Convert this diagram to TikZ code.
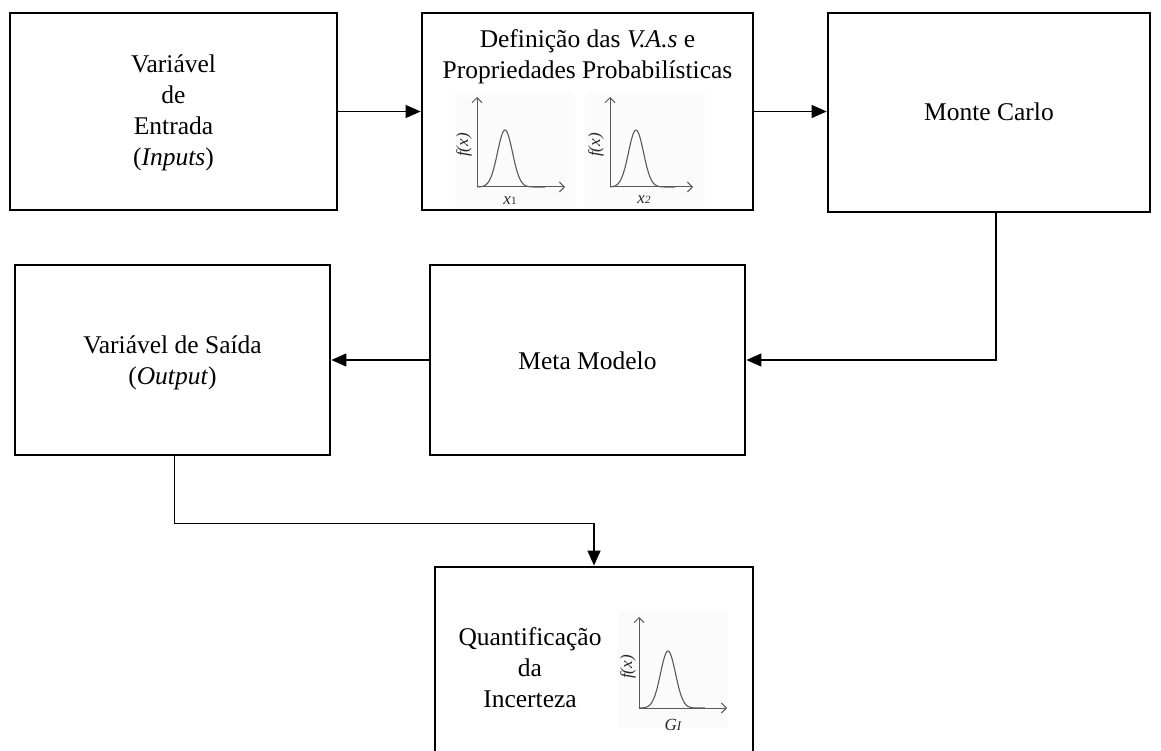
\documentclass[tikz,border=0pt]{standalone}
\usepackage{fontspec}
\setmainfont{Liberation Serif}
\usetikzlibrary{arrows.meta}
\tikzset{
  box/.style={draw, line width=2.8pt, inner sep=0pt},
  txt/.style={align=center, font=\fontsize{25.5}{31}\selectfont, inner sep=0pt},
  conn/.style={line width=1.3pt, -{Triangle[length=15pt,width=13pt]}},
  axisline/.style={draw=black!65, line width=1pt, -{Straight Barb[length=5pt,width=10pt]}},
  curve/.style={draw=black!65, line width=1.1pt},
  lbl/.style={font=\fontsize{17}{18}\selectfont\itshape, inner sep=0pt, text=black!85},
  plotbg/.style={fill=black!1.5, draw=none}
}
\begin{document}
\begin{tikzpicture}[x=1pt,y=-1pt]
\useasboundingbox (0,0) rectangle (1161,751);
% plot backgrounds
\fill[plotbg] (455,92) rectangle (575,207);
\fill[plotbg] (585,92) rectangle (705,207);
\fill[plotbg] (618,610) rectangle (728,728);
% boxes
\node[box, minimum width=327pt, minimum height=197pt] (inp) at (173.5,111.5) {};
\node[box, minimum width=331pt, minimum height=197pt] (vas) at (587.5,111.5) {};
\node[box, minimum width=322pt, minimum height=199pt] (mc) at (989,112.5) {};
\node[box, minimum width=315pt, minimum height=190pt] (meta) at (587.5,360) {};
\node[box, minimum width=315pt, minimum height=190pt] (out) at (172.5,360) {};
\node[box, minimum width=318pt, minimum height=196pt] (quant) at (594,665) {};
% texts
\node[txt] (tinp) at (173.5,113) {Variável\\de\\Entrada\\(\textit{Inputs})};
\node[txt] (tvas) at (587.5,57) {Definição das \textit{V.A.s} e\\Propriedades Probabilísticas};
\node[txt] (tmc) at (989,112) {Monte Carlo};
\node[txt] (tmeta) at (587.5,361) {Meta Modelo};
\node[txt] (tout) at (172.5,363) {Variável de Saída\\(\textit{Output})};
\node[txt] (tquant) at (530,668) {Quantificação\\da\\Incerteza};
% plot 1
\coordinate (o1) at (477,187);
\draw[axisline] (o1) -- (477,97);
\draw[axisline] (o1) -- (565,187);
\draw[curve] plot[domain=477:545, samples=60, smooth] (\x, {187-57*exp(-((\x-505)^2)/(2*7.5^2))});
\node[lbl, rotate=90] (f1) at (464,145) {f(x)};
\node[lbl] (x1) at (510,201) {x\textup{\fontsize{11}{11}\selectfont 1}};
% plot 2
\coordinate (o2) at (610,187);
\draw[axisline] (o2) -- (610,97);
\draw[axisline] (o2) -- (693,187);
\draw[curve] plot[domain=610:675, samples=60, smooth] (\x, {187-57*exp(-((\x-636)^2)/(2*7.5^2))});
\node[lbl, rotate=90] (f2) at (596,145) {f(x)};
\node[lbl] (x2) at (644,200) {x\fontsize{11}{11}\selectfont 2};
% plot 3
\coordinate (o3) at (639,708);
\draw[axisline] (o3) -- (639,617);
\draw[axisline] (o3) -- (727,708);
\draw[curve] plot[domain=639:705, samples=60, smooth] (\x, {708-57*exp(-((\x-668)^2)/(2*7.5^2))});
\node[lbl, rotate=90] (f3) at (628,667) {f(x)};
\node[lbl] (g1) at (673,725) {G\fontsize{13}{13}\selectfont I};
% connectors
\draw[conn] (inp.east) -- (vas.west);
\draw[conn] (vas.east) -- (vas.east -| mc.west);
\draw[conn] ([xshift=7pt]mc.south) |- (meta.east);
\draw[conn] (meta.west) -- (out.east);
\draw[conn] ([xshift=2pt]out.south) -- ++(0,67) -| (quant.north);
\end{tikzpicture}
\end{document}
